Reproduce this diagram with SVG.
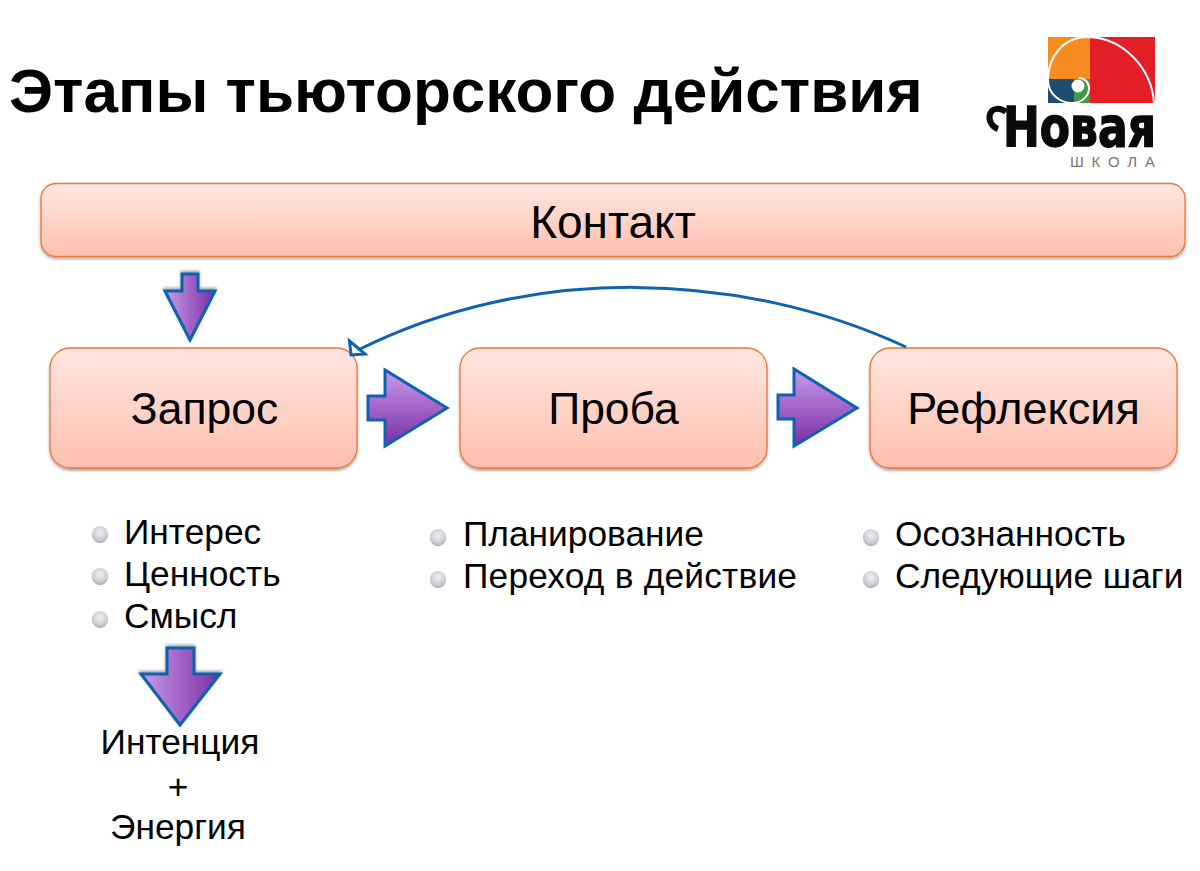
<svg xmlns="http://www.w3.org/2000/svg" width="1200" height="871" viewBox="0 0 1200 871">
<style>
text{font-family:"Liberation Sans",Arial,sans-serif;fill:#000}
.title{font-size:62px;font-weight:700}
.box{fill:url(#boxFill);stroke:#e8773a;stroke-width:1.3;filter:url(#shadow)}
.lbl{font-size:44.500px;text-anchor:middle}
.item{font-size:35.300px}
.mid{font-size:35.300px;text-anchor:middle}
.arrow{stroke:#0f62b0;stroke-width:3;stroke-linejoin:miter}
.bullet{fill:url(#bulletFill);filter:url(#bshadow)}
</style>
<defs>
<linearGradient id="boxFill" x1="0" y1="0" x2="0" y2="1"><stop offset="0" stop-color="#ffe7e1"/><stop offset="1" stop-color="#ffbfae"/></linearGradient>
<linearGradient id="purpleH" x1="0" y1="0" x2="1" y2="0"><stop offset="0" stop-color="#c99ae8"/><stop offset="1" stop-color="#7a2ea6"/></linearGradient>
<linearGradient id="purpleV" x1="0" y1="0" x2="0" y2="1"><stop offset="0" stop-color="#c99ae8"/><stop offset="1" stop-color="#7a2ea6"/></linearGradient>
<radialGradient id="bulletFill" cx="0.5" cy="0.4" r="0.7"><stop offset="0" stop-color="#eeeff1"/><stop offset="0.6" stop-color="#cfd1d6"/><stop offset="1" stop-color="#a4a6ab"/></radialGradient>
<filter id="shadow" x="-5%" y="-10%" width="110%" height="125%"><feDropShadow dx="0" dy="2" stdDeviation="1.500" flood-color="#000" flood-opacity="0.35"/></filter>
<filter id="bshadow" x="-30%" y="-30%" width="160%" height="160%"><feDropShadow dx="0" dy="1" stdDeviation="0.700" flood-color="#000" flood-opacity="0.35"/></filter>
<filter id="ashadow" x="-20%" y="-20%" width="140%" height="140%"><feDropShadow dx="0" dy="-1.500" stdDeviation="1.500" flood-color="#000" flood-opacity="0.4"/></filter>
</defs>
<rect width="1200" height="871" fill="#fff"/>
<text class="title" x="9" y="112">Этапы тьюторского действия</text>
<g id="logo">
<rect x="1090" y="37" width="65" height="66" fill="#e21f26"/>
<rect x="1048" y="37" width="42" height="42" fill="#f68b1f"/>
<rect x="1048" y="79" width="26" height="24" fill="#1d4e72"/>
<rect x="1074" y="79" width="16" height="24" fill="#3a9a45"/>
<path d="M1154 103C1152 70 1125 38 1088 37C1062 37 1048 58 1048 80C1048 94 1060 103 1072 103C1083 103 1089 95 1089 88C1089 82 1084 78 1079 78" fill="none" stroke="#fff" stroke-width="2"/>
<circle cx="1078" cy="86" r="6.500" fill="#fff"/>
<path d="M1006 112C1000 107 992 108 990 114C988 120 992 127 998 129" fill="none" stroke="#0a0a0a" stroke-width="6"/>
<text x="1003" y="146" font-size="55" textLength="153" lengthAdjust="spacingAndGlyphs" style="font-family:'DejaVu Sans',sans-serif;font-weight:700;fill:#0a0a0a;stroke:#0a0a0a;stroke-width:1.500">Новая</text>
<text x="1070" y="166.500" font-size="15" textLength="85" style="font-family:'Liberation Sans',sans-serif;fill:#777">ШКОЛА</text>
</g>
<g id="kontakt"><rect class="box" x="41" y="183.500" width="1144" height="73" rx="15"/><text class="lbl" x="613" y="238" style="font-size:46px">Контакт</text></g>
<g id="zapros"><rect class="box" x="50" y="348" width="307" height="120" rx="20"/><text class="lbl" x="204.500" y="424">Запрос</text></g>
<g id="proba"><rect class="box" x="460" y="348" width="307" height="120" rx="20"/><text class="lbl" x="613.500" y="424">Проба</text></g>
<g id="refleksiya"><rect class="box" x="870" y="348" width="307" height="120" rx="20"/><text class="lbl" x="1023.500" y="424" style="font-size:45px">Рефлексия</text></g>
<g id="connectors">
<path d="M906 347C740 270 530 264 358 350" fill="none" stroke="#0f62b0" stroke-width="3"/>
<path d="M349.500 341L365 354L351 355Z" fill="#fff" stroke="#0f62b0" stroke-width="3"/>
<path class="arrow" fill="url(#purpleH)" filter="url(#ashadow)" d="M182 274H198V291H215L190 340L165 291H182Z"/>
<path class="arrow" fill="url(#purpleV)" d="M368 396H385V370L447 408L385 446V420H368Z"/>
<path class="arrow" fill="url(#purpleV)" d="M778 395H794V369L857 408L794 446V419H778Z"/>
<path class="arrow" fill="url(#purpleH)" filter="url(#ashadow)" d="M167 648H194V674H220L180 725L141 674H167Z"/>
</g>
<g id="list-zapros">
<circle class="bullet" cx="100" cy="534" r="8"/><text class="item" x="124" y="544">Интерес</text>
<circle class="bullet" cx="100" cy="576" r="8"/><text class="item" x="124" y="586">Ценность</text>
<circle class="bullet" cx="100" cy="619" r="8"/><text class="item" x="124" y="628">Смысл</text>
</g>
<g id="list-proba">
<circle class="bullet" cx="438" cy="537" r="8"/><text class="item" x="463" y="546">Планирование</text>
<circle class="bullet" cx="438" cy="579" r="8"/><text class="item" x="463" y="588" textLength="334">Переход в действие</text>
</g>
<g id="list-refleksiya">
<circle class="bullet" cx="871" cy="537" r="8"/><text class="item" x="895" y="546">Осознанность</text>
<circle class="bullet" cx="871" cy="579" r="8"/><text class="item" x="895" y="588">Следующие шаги</text>
</g>
<g id="result">
<text class="mid" x="180" y="754">Интенция</text>
<text class="mid" x="178" y="799">+</text>
<text class="mid" x="178" y="839">Энергия</text>
</g>
</svg>
